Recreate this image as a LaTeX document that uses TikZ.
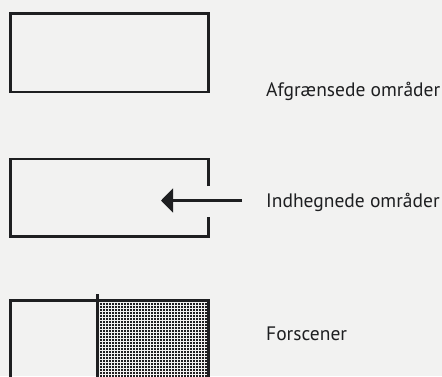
\documentclass[tikz,border=0pt]{standalone}
\usepackage{fontspec}
\setmainfont{PT Sans}
\usetikzlibrary{arrows.meta}
\definecolor{paper}{HTML}{F2F2F1}
\definecolor{ink}{HTML}{1E1F21}
\tikzset{
  outline/.style={draw=ink, line width=2.2pt, line cap=rect},
  legend/.style={anchor=base west, inner sep=0pt, text=ink, font=\fontsize{19.5}{22}\selectfont},
}
\begin{document}
\begin{tikzpicture}[x=1pt,y=-1pt]
  \fill[paper] (0,0) rectangle (442,376);
  \useasboundingbox (0,0) rectangle (442,376);
  % plain boundary
  \draw[outline] (10.5,13.5) rectangle (208.5,92);
  \node[legend] (t1) at (266,96.5) {Afgrænsede områder};
  % fenced area with opening on the right
  \coordinate (g1) at (208.5,186);
  \coordinate (g2) at (208.5,217);
  \draw[outline, line cap=butt] (g1) -- (208.5,159) -- (10.5,159) -- (10.5,236.5) -- (208.5,236.5) -- (g2);
  \coordinate (a0) at (242,200.5);
  \coordinate (a1) at (161,200.5);
  \draw[draw=ink, line width=2.2pt, -{Triangle[length=12pt,width=24pt]}] (a0) -- (a1);
  \node[legend] (t2) at (266,207) {Indhegnede områder};
  % forestage, stippled part: a grid of small square dots
  \foreach \i in {0,...,36}{
    \foreach \j in {0,...,25}{
      \fill[ink] ({100.2+3*\i},{303.2+3*\j}) rectangle +(1.3,1.3);
    }
  }
  \draw[outline] (10.5,380) -- (10.5,300.5) -- (208.5,300.5) -- (208.5,380);
  \draw[outline, line cap=butt] (97.5,294) -- (97.5,380);
  \node[legend] (t3) at (266,340) {Forscener};
\end{tikzpicture}
\end{document}
